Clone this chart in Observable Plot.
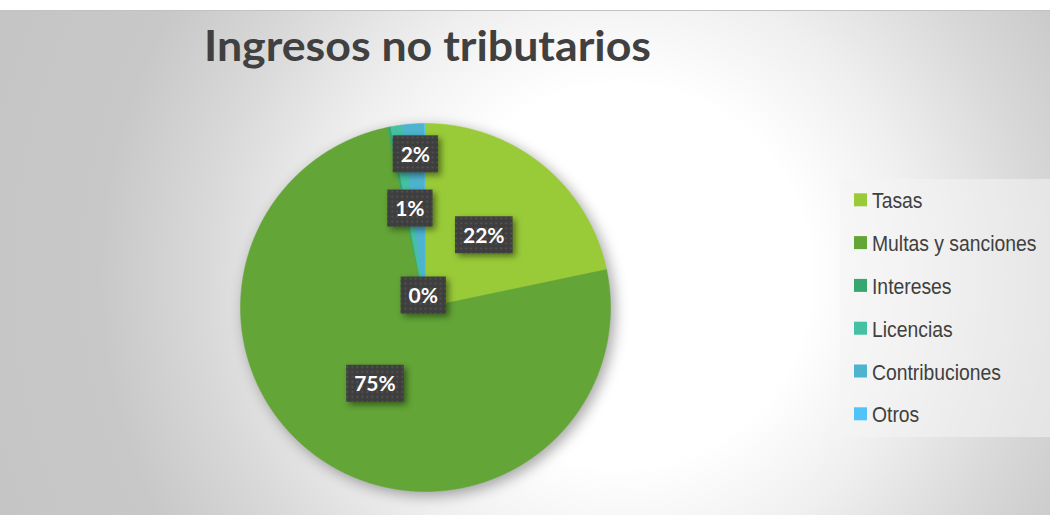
<!DOCTYPE html>
<html>
<head>
<meta charset="utf-8">
<script src="https://cdn.jsdelivr.net/npm/d3@7"></script>
<script src="https://cdn.jsdelivr.net/npm/@observablehq/plot@0.6"></script>
<style>
  html, body { margin: 0; padding: 0; background: #ffffff; }
  #frame { position: relative; width: 1050px; height: 515px; overflow: hidden; background: #ffffff; }
  #bg { position: absolute; left: 0; top: 10px; width: 1050px; height: 505px;
        border-top: 1px solid #c2c2c2; box-sizing: border-box;
        background: radial-gradient(circle at 620px 265px, #ffffff 0px, #ffffff 190px, #efefef 300px, #d8d8d8 420px, #c8c8c8 520px, #c4c4c4 700px); }
  #chart { position: absolute; left: 0; top: 0; }
  #overlay { position: absolute; left: 0; top: 0; }
</style>
</head>
<body>
<div id="frame">
  <div id="bg"></div>
  <div id="chart"></div>
  <svg id="overlay" width="1050" height="515"></svg>
</div>
<script>
// ---- data ----
const title = "Ingresos no tributarios";
const categories = ["Tasas", "Multas y sanciones", "Intereses", "Licencias", "Contribuciones", "Otros"];
const values = [21.7, 75.0, 0.3, 1.0, 1.9, 0.1];
const colors = ["#99CB38", "#63A537", "#37A76F", "#44C1A3", "#4EB3CF", "#51C3F9"];
const showLabel = [true, true, true, true, true, false];

// ---- layout (label placement, "best fit" as in the original) ----
const labelRadius = [0.5, 0.5, 0.062, 0.54, 0.83, 0.9];

const rows = categories.map((name, i) => ({name, value: values[i], i}));
const total = d3.sum(values);
const arcs = d3.pie().sort(null).value(d => d.value).startAngle(0).endAngle(2 * Math.PI)(rows);

// polygon points for each slice (unit circle, y up)
const piePoints = [];
for (const a of arcs) {
  const name = a.data.name;
  piePoints.push({name, x: 0, y: 0});
  const n = Math.max(2, Math.ceil((a.endAngle - a.startAngle) / 0.005));
  for (let k = 0; k <= n; k++) {
    const t = a.startAngle + (a.endAngle - a.startAngle) * k / n;
    piePoints.push({name, x: Math.sin(t), y: Math.cos(t)});
  }
  piePoints.push({name, x: 0, y: 0});
}

const labels = arcs.filter(a => showLabel[a.data.i]).map(a => {
  const mid = (a.startAngle + a.endAngle) / 2;
  const r = labelRadius[a.data.i];
  return {name: a.data.name, x: r * Math.sin(mid), y: r * Math.cos(mid),
          label: Math.round(a.data.value / total * 100) + "%"};
});

const chart = Plot.plot({
  width: 1050,
  height: 515,
  marginLeft: 240,
  marginRight: 440,
  marginTop: 123,
  marginBottom: 24,
  x: {domain: [-1, 1], axis: null},
  y: {domain: [-1, 1], axis: null},
  color: {domain: categories, range: colors},
  style: {background: "transparent", overflow: "visible"},
  marks: [
    Plot.line(piePoints, {x: "x", y: "y", z: "name", fill: "name", stroke: "name", strokeWidth: 0.5, curve: "linear"}),
    Plot.text(labels, {x: "x", y: "y", text: "label", fill: "white", fontSize: 21, fontWeight: "bold", fontFamily: "Lato"})
  ]
});
document.getElementById("chart").appendChild(chart);

// defs: dotted pattern + shadows
const svg = d3.select(chart);
const defs = svg.insert("defs", ":first-child");
const pat = defs.append("pattern").attr("id", "dots").attr("width", 5).attr("height", 5)
  .attr("patternUnits", "userSpaceOnUse");
pat.append("rect").attr("width", 5).attr("height", 5).attr("fill", "#3e3e3e");
pat.append("rect").attr("x", 1.5).attr("y", 1.5).attr("width", 1.7).attr("height", 1.7).attr("fill", "#585858");

svg.select('g[aria-label="line"]').style("filter", "drop-shadow(4px 4px 7px rgba(0,0,0,0.35))");

// label boxes behind label text
svg.selectAll('g[aria-label="text"] text').each(function() {
  const bb = this.getBBox();
  const cx = bb.x + bb.width / 2;
  const cy = bb.y + bb.height / 2;
  const w = bb.width + 16, h = 37;
  const tr = this.getAttribute("transform");
  const r = d3.select(this.parentNode).insert("rect", () => this)
    .attr("x", cx - w / 2).attr("y", cy - h / 2 + 0.5)
    .attr("width", w).attr("height", h)
    .attr("fill", "url(#dots)")
    .style("filter", "drop-shadow(3px 3px 3px rgba(0,0,0,0.45))");
  if (tr) r.attr("transform", tr);
});

// title and legend (overlay svg)
const ov = d3.select("#overlay");
ov.append("text").attr("x", 204).attr("y", 61)
  .attr("textLength", 447).attr("lengthAdjust", "spacingAndGlyphs")
  .attr("font-family", "Lato").attr("font-weight", "bold").attr("font-size", 42)
  .attr("fill", "#404040").text(title);

const lg = ov.append("g");
lg.append("rect").attr("x", 840).attr("y", 179).attr("width", 210).attr("height", 258)
  .attr("fill", "#f4f4f4").attr("fill-opacity", 0.55);
categories.forEach((c, i) => {
  const y0 = 193.3 + 42.8 * i;
  lg.append("rect").attr("x", 854).attr("y", y0).attr("width", 13).attr("height", 13).attr("fill", colors[i]);
  lg.append("text").attr("transform", `translate(872,${208.3 + 42.8 * i}) scale(0.9,1)`)
    .attr("font-family", "Liberation Sans, Arial").attr("font-size", 21.5).attr("fill", "#404040").text(c);
});
</script>
</body>
</html>
